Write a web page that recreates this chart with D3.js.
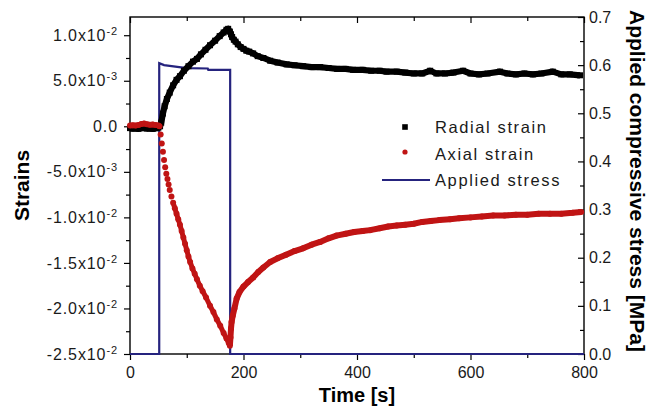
<!DOCTYPE html>
<html>
<head>
<meta charset="utf-8">
<script src="https://cdn.jsdelivr.net/npm/d3@7"></script>
<style>
  html, body { margin: 0; padding: 0; background: #fff; overflow: hidden; }
  #chart { width: 648px; height: 412px; }
  #chart svg { display: block; }
</style>
</head>
<body>
<div id="chart"></div>
<script>
// Radial strain (black squares)
const radialTime = [0, 5, 10, 15, 20, 25, 30, 35, 40, 45, 50, 53, 55, 58, 61, 65, 70, 76, 82, 88, 95, 103, 111, 118, 125, 133, 141, 150, 158, 165, 170, 173, 176, 178, 180, 183, 186, 190, 195, 200, 205, 210, 217, 225, 235, 247, 260, 276, 290, 305, 320, 335, 350, 365, 380, 393, 410, 425, 440, 452, 470, 485, 500, 515, 529, 540, 555, 570, 587, 600, 615, 630, 652, 665, 680, 695, 710, 725, 745, 760, 775, 793];
const radialStrain = [-0.0002, -0.00025, -0.00022, -0.00028, -0.0002, -0.00018, -0.00025, -0.00022, -0.00028, -0.00022, -0.00015, 0.0, 0.0004, 0.0014, 0.0022, 0.003, 0.0037, 0.0045, 0.0051, 0.0055, 0.0061, 0.0066, 0.0071, 0.0074, 0.0079, 0.0084, 0.0089, 0.0094, 0.0099, 0.0103, 0.0106, 0.0107, 0.0104, 0.0101, 0.0098, 0.0095, 0.0093, 0.009, 0.0087, 0.0085, 0.0083, 0.0082, 0.008, 0.0077, 0.0075, 0.0072, 0.007, 0.0068, 0.0067, 0.0066, 0.0065, 0.0065, 0.0064, 0.0063, 0.0063, 0.0062, 0.0062, 0.0061, 0.0061, 0.006, 0.006, 0.0059, 0.0058, 0.0058, 0.0061, 0.0058, 0.0058, 0.0059, 0.0061, 0.0058, 0.0057, 0.0058, 0.006, 0.0058, 0.0057, 0.0058, 0.0057, 0.0058, 0.006, 0.0057, 0.0057, 0.0056];

// Axial strain (red circles)
const axialTime = [0, 5, 10, 15, 20, 25, 30, 35, 40, 45, 50, 52, 54, 56, 58, 60, 62, 64, 66, 68, 70, 73, 76, 79, 82, 85, 88, 91, 94, 97, 100, 103, 106, 110, 114, 118, 123, 128, 134, 141, 147, 153, 159, 165, 170, 174, 176, 177, 178, 179, 181, 184, 188, 193, 200, 208, 217, 226, 235, 247, 260, 275, 290, 305, 320, 335, 350, 364, 380, 395, 410, 423, 440, 455, 470, 485, 500, 515, 530, 545, 564, 580, 600, 620, 640, 660, 680, 700, 720, 740, 760, 780, 795];
const axialStrain = [0.0001, 0.00012, 0.00008, 0.00015, 0.00025, 0.0003, 0.00022, 0.00018, 0.0002, 0.00015, 0.0001, 0.0, -0.0009, -0.0019, -0.0028, -0.0037, -0.0045, -0.0052, -0.0058, -0.0064, -0.007, -0.0077, -0.0084, -0.009, -0.0096, -0.0102, -0.0108, -0.0115, -0.0122, -0.0129, -0.0136, -0.0143, -0.0149, -0.0156, -0.0162, -0.0168, -0.0175, -0.0181, -0.0188, -0.0197, -0.0204, -0.0212, -0.0219, -0.0227, -0.0233, -0.0238, -0.0241, -0.0232, -0.0222, -0.0215, -0.0208, -0.02, -0.0189, -0.0182, -0.0176, -0.0171, -0.0166, -0.016, -0.0155, -0.0149, -0.0145, -0.0141, -0.0137, -0.0134, -0.013, -0.0127, -0.0123, -0.012, -0.0118, -0.0116, -0.0115, -0.0114, -0.0112, -0.011, -0.0109, -0.0108, -0.0107, -0.0105, -0.0104, -0.0103, -0.0102, -0.0101, -0.01, -0.0099, -0.0098, -0.0098, -0.0097, -0.0097, -0.0096, -0.0096, -0.0096, -0.0095, -0.0094];

// Applied stress (MPa)
const stressTime = [0, 51.5, 51.5, 60, 100, 137, 138, 176.5, 176.5, 800];
const stressValue = [0, 0, 0.604, 0.6, 0.594, 0.593, 0.59, 0.59, 0, 0];

// Axis ticks
const timeTicks = [0, 200, 400, 600, 800];
const strainTicks = [0.01, 0.005, 0, -0.005, -0.01, -0.015, -0.02, -0.025];
const strainTickBase = ["1.0x10", "5.0x10", "0.0", "-5.0x10", "-1.0x10", "-1.5x10", "-2.0x10", "-2.5x10"];
const strainTickExp = ["-2", "-3", "", "-3", "-2", "-2", "-2", "-2"];
const stressTicks = [0, 0.1, 0.2, 0.3, 0.4, 0.5, 0.6, 0.7];

const legendLabels = ["Radial strain", "Axial strain", "Applied stress"];

const width = 648, height = 412;
const margin = { top: 17, right: 64, bottom: 58, left: 130 };
const innerWidth = width - margin.left - margin.right;
const innerHeight = height - margin.top - margin.bottom;

const black = "#000000", red = "#c01414", navy = "#25237e";
const font = "'Liberation Sans', Arial, sans-serif";

const svg = d3.select("#chart").append("svg")
    .attr("width", width)
    .attr("height", height)
    .style("font-family", font);

const g = svg.append("g")
    .attr("transform", `translate(${margin.left},${margin.top})`);

const x = d3.scaleLinear().domain([0, 800]).range([0, innerWidth]);
const yL = d3.scaleLinear().domain([-0.025, 0.012]).range([innerHeight, 0]);
const yR = d3.scaleLinear().domain([0, 0.7]).range([innerHeight, 0]);

function styleAxis(sel) {
    sel.attr("font-size", null).attr("font-family", null);
    sel.select(".domain").remove();
    sel.selectAll("line").attr("stroke", "#000").attr("stroke-width", 1.2);
    sel.selectAll("text").attr("fill", "#1a1a1a").style("font-size", "16px").style("font-family", font);
}
// tick marks only, no label texts
function ticksOnly(sel) {
    sel.select(".domain").remove();
    sel.selectAll("text").remove();
    sel.selectAll("line").attr("stroke", "#000").attr("stroke-width", 1.2);
}

// minor ticks
const timeMinor = d3.range(100, 800, 200);
const strainMinor = d3.range(-0.0225, 0.012, 0.005);
const stressMinor = d3.range(0.05, 0.7, 0.1);

// bottom axis
g.append("g").attr("transform", `translate(0,${innerHeight})`)
    .call(d3.axisBottom(x).tickValues(timeTicks).tickSize(6).tickPadding(7).tickFormat(d3.format("d")))
    .call(styleAxis);
g.append("g").attr("transform", `translate(0,${innerHeight})`)
    .call(d3.axisBottom(x).tickValues(timeMinor).tickSize(4))
    .call(ticksOnly);
// top axis (ticks inward)
g.append("g")
    .call(d3.axisBottom(x).tickValues(timeTicks).tickSize(6))
    .call(ticksOnly);
g.append("g")
    .call(d3.axisBottom(x).tickValues(timeMinor).tickSize(4))
    .call(ticksOnly);

// left axis
const leftAxis = g.append("g")
    .call(d3.axisLeft(yL).tickValues(strainTicks).tickSize(6).tickPadding(6).tickFormat(""))
    .call(styleAxis);
leftAxis.selectAll(".tick text").each(function (d, i) {
    const t = d3.select(this).style("letter-spacing", "0.9px");
    t.text(strainTickBase[i]);
    if (strainTickExp[i]) {
        t.append("tspan").attr("dy", "-6").style("font-size", "11px").text(strainTickExp[i]);
    }
});
g.append("g")
    .call(d3.axisLeft(yL).tickValues(strainMinor).tickSize(4))
    .call(ticksOnly);

// right axis (ticks inward)
g.append("g").attr("transform", `translate(${innerWidth},0)`)
    .call(d3.axisRight(yR).tickValues(stressTicks).tickSize(0).tickPadding(5).tickFormat(d3.format(".1f")))
    .call(styleAxis);
g.append("g").attr("transform", `translate(${innerWidth},0)`)
    .call(d3.axisLeft(yR).tickValues(stressTicks).tickSize(6))
    .call(ticksOnly);
g.append("g").attr("transform", `translate(${innerWidth},0)`)
    .call(d3.axisLeft(yR).tickValues(stressMinor).tickSize(4))
    .call(ticksOnly);

// frame
g.append("rect")
    .attr("width", innerWidth).attr("height", innerHeight)
    .attr("fill", "none").attr("stroke", "#000").attr("stroke-width", 1.4);

// applied stress line
const stress = stressTime.map((t, i) => [t, stressValue[i]]);
g.append("path")
    .datum(stress)
    .attr("fill", "none")
    .attr("stroke", navy)
    .attr("stroke-width", 2.2)
    .attr("d", d3.line().x(d => x(d[0])).y(d => yR(d[1])));

// radial strain
const radial = radialTime.map((t, i) => [t, radialStrain[i]]);
const strainLine = d3.line().x(d => x(d[0])).y(d => yL(d[1]));
g.append("path")
    .datum(radial)
    .attr("fill", "none").attr("stroke", black)
    .attr("stroke-width", 6.2).attr("stroke-linejoin", "round")
    .attr("d", strainLine);
g.append("g").selectAll("rect")
    .data(radial)
    .enter().append("rect")
    .attr("x", d => x(d[0]) - 3)
    .attr("y", d => yL(d[1]) - 3)
    .attr("width", 6).attr("height", 6)
    .attr("fill", black);

// axial strain
const axial = axialTime.map((t, i) => [t, axialStrain[i]]);
g.append("path")
    .datum(axial.filter(d => d[0] >= 176))
    .attr("fill", "none").attr("stroke", red)
    .attr("stroke-width", 6).attr("stroke-linejoin", "round")
    .attr("d", strainLine);
g.append("path")
    .datum(axial.filter(d => d[0] <= 52))
    .attr("fill", "none").attr("stroke", red)
    .attr("stroke-width", 5.5).attr("stroke-linejoin", "round")
    .attr("d", strainLine);
g.append("path")
    .datum(axial.filter(d => d[0] >= 76 && d[0] <= 176))
    .attr("fill", "none").attr("stroke", red)
    .attr("stroke-width", 5).attr("stroke-linejoin", "round")
    .attr("d", strainLine);
g.append("g").selectAll("circle")
    .data(axial)
    .enter().append("circle")
    .attr("cx", d => x(d[0]))
    .attr("cy", d => yL(d[1]))
    .attr("r", 3)
    .attr("fill", red);

// legend
const legend = svg.append("g").attr("transform", "translate(405,127)");
legend.append("rect").attr("x", -2.8).attr("y", -2.8).attr("width", 5.6).attr("height", 5.6).attr("fill", black);
legend.append("circle").attr("cx", 0).attr("cy", 25).attr("r", 2.6).attr("fill", red);
legend.append("line").attr("x1", -23).attr("x2", 25).attr("y1", 53).attr("y2", 53)
    .attr("stroke", navy).attr("stroke-width", 2.2);
legend.selectAll("text.lg")
    .data(legendLabels)
    .enter().append("text")
    .attr("class", "lg")
    .attr("x", 30)
    .attr("y", (d, i) => 6 + i * 26.5)
    .style("font-size", "16.5px")
    .style("letter-spacing", "1.6px")
    .attr("fill", "#1a1a1a")
    .text(d => d);

// axis titles
svg.append("text")
    .attr("x", margin.left + innerWidth / 2)
    .attr("y", 402)
    .attr("text-anchor", "middle")
    .style("font-size", "20px").style("font-weight", "bold")
    .text("Time [s]");

svg.append("text")
    .attr("transform", `translate(29,${margin.top + innerHeight / 2}) rotate(-90)`)
    .attr("text-anchor", "middle")
    .style("font-size", "21px").style("font-weight", "bold")
    .text("Strains");

svg.append("text")
    .attr("transform", `translate(630,181) rotate(90)`)
    .attr("text-anchor", "middle")
    .style("font-size", "21px").style("font-weight", "bold")
    .text("Applied compressive stress [MPa]");
</script>
</body>
</html>
